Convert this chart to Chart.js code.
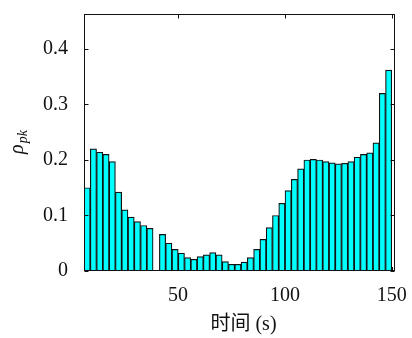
<!DOCTYPE html>
<html>
<head>
<meta charset="utf-8">
<script src="https://cdn.jsdelivr.net/npm/chart.js@4"></script>
<style>
  html, body { margin: 0; padding: 0; background: #fff; }
  canvas { display: block; }
</style>
</head>
<body>
<canvas id="chart" width="412" height="338"></canvas>
<script>
// bin centres (s) and rho_pk per bin
const times = [7.47, 10.41, 13.35, 16.29, 19.23, 22.16, 25.10, 28.04, 30.98, 33.92,
    36.86, 39.80, 42.73, 45.67, 48.61, 51.55, 54.49, 57.43, 60.37, 63.31,
    66.24, 69.18, 72.12, 75.06, 78.00, 80.94, 83.88, 86.82, 89.76, 92.69,
    95.63, 98.57, 101.51, 104.45, 107.39, 110.33, 113.27, 116.20, 119.14, 122.08,
    125.02, 127.96, 130.90, 133.84, 136.78, 139.71, 142.65, 145.59, 148.53];
const rho = [0.150, 0.220, 0.214, 0.210, 0.197, 0.142, 0.110, 0.097, 0.089, 0.082,
    0.077, 0, 0.066, 0.050, 0.039, 0.032, 0.024, 0.021, 0.026, 0.029,
    0.033, 0.029, 0.017, 0.012, 0.012, 0.016, 0.024, 0.039, 0.057, 0.078,
    0.100, 0.122, 0.145, 0.165, 0.184, 0.200, 0.201, 0.200, 0.197, 0.195,
    0.193, 0.194, 0.197, 0.205, 0.210, 0.213, 0.231, 0.320, 0.362];
const xTicks = [50, 100, 150];
const yTicks = [0, 0.1, 0.2, 0.3, 0.4];

const serif = "'Liberation Serif', 'Noto Sans CJK SC', serif";
const ink = '#111';

// drop the label-overflow padding Chart.js adds, the layout padding covers it
function noPad(s) {
    s.paddingTop = 0; s.paddingBottom = 0; s.paddingLeft = 0; s.paddingRight = 0;
}

// box, inward ticks and axis titles (MATLAB look)
const frame = {
    id: 'frame',
    beforeDatasetsDraw(chart) {
        const { ctx, chartArea: a, scales: { x } } = chart;
        ctx.save();
        ctx.strokeStyle = ink;
        ctx.lineWidth = 1;
        ctx.beginPath();
        xTicks.forEach(v => {
            const px = Math.round(x.getPixelForValue(v)) + 0.5;
            ctx.moveTo(px, a.bottom);
            ctx.lineTo(px, a.bottom - 4);
        });
        ctx.stroke();
        ctx.restore();
    },
    afterDraw(chart) {
        const { ctx, chartArea: a, scales: { x, y } } = chart;
        ctx.save();
        ctx.strokeStyle = ink;
        ctx.lineWidth = 1;
        const l = Math.round(a.left) + 0.5, r = Math.round(a.right) - 0.5;
        const t = Math.round(a.top) + 0.5, b = Math.round(a.bottom) - 0.5;
        ctx.strokeRect(l, t, r - l, b - t);
        ctx.beginPath();
        yTicks.forEach(v => {
            const py = Math.round(y.getPixelForValue(v)) + 0.5;
            ctx.moveTo(l, py); ctx.lineTo(l + 4, py);
            ctx.moveTo(r, py); ctx.lineTo(r - 4, py);
        });
        xTicks.forEach(v => {
            const px = Math.round(x.getPixelForValue(v)) + 0.5;
            ctx.moveTo(px, t); ctx.lineTo(px, t + 4);
        });
        ctx.stroke();

        ctx.fillStyle = ink;
        // x title
        ctx.font = '20px ' + serif;
        ctx.textAlign = 'center';
        ctx.textBaseline = 'alphabetic';
        ctx.fillText('时间 (s)', (a.left + a.right) / 2 + 4, 330);

        // y title: rho with subscript pk
        ctx.translate(23, (a.top + a.bottom) / 2);
        ctx.rotate(-Math.PI / 2);
        ctx.font = 'italic 20px ' + serif;
        const w1 = ctx.measureText('ρ').width;
        ctx.font = 'italic 14px ' + serif;
        const w2 = ctx.measureText('pk').width;
        const x0 = -(w1 + w2) / 2;
        ctx.textAlign = 'left';
        ctx.font = 'italic 20px ' + serif;
        ctx.fillText('ρ', x0, 0);
        ctx.font = 'italic 14px ' + serif;
        ctx.fillText('pk', x0 + w1 + 1, 4);
        ctx.restore();
    }
};

new Chart(document.getElementById('chart'), {
    type: 'bar',
    data: {
        datasets: [{
            data: times.map((t, i) => ({ x: t, y: rho[i] })),
            backgroundColor: '#00FFFF',
            borderColor: ink,
            borderWidth: 1.2,
            borderSkipped: false,
            categoryPercentage: 1,
            barPercentage: 1
        }]
    },
    options: {
        responsive: false,
        animation: false,
        devicePixelRatio: 1,
        layout: { padding: { top: 14, right: 17, left: 0, bottom: 0 } },
        plugins: { legend: { display: false }, tooltip: { enabled: false } },
        scales: {
            x: {
                type: 'linear',
                min: 6,
                max: 151.5,
                offset: false,
                grid: { display: false, drawTicks: false },
                border: { display: false },
                afterBuildTicks: s => { s.ticks = xTicks.map(v => ({ value: v })); },
                afterFit: s => { s.height = 67; noPad(s); },
                ticks: {
                    color: ink,
                    font: { family: serif, size: 20 },
                    padding: 13,
                    maxRotation: 0,
                    callback: v => String(v)
                }
            },
            y: {
                min: 0,
                max: 0.463,
                grid: { display: false, drawTicks: false },
                border: { display: false },
                afterBuildTicks: s => { s.ticks = yTicks.map(v => ({ value: v })); },
                afterFit: s => { s.width = 84; noPad(s); },
                ticks: {
                    color: ink,
                    font: { family: serif, size: 20 },
                    padding: 16,
                    callback: v => v === 0 ? '0' : v.toFixed(1)
                }
            }
        }
    },
    plugins: [frame]
});
</script>
</body>
</html>
